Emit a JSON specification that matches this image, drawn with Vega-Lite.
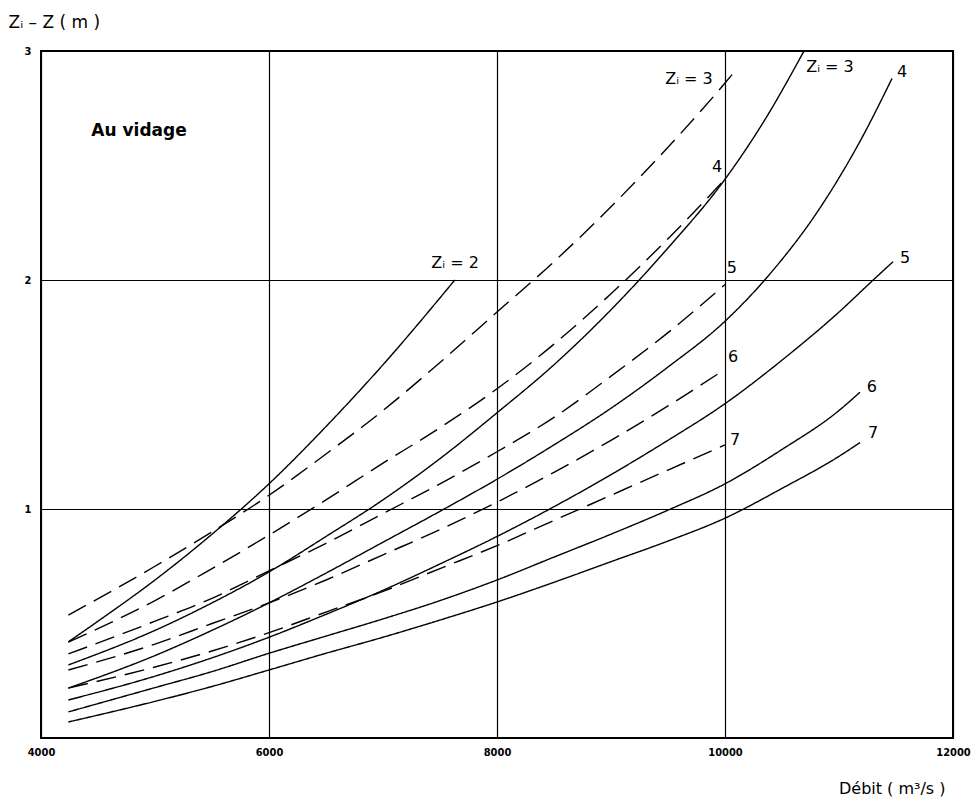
{
  "$schema": "https://vega.github.io/schema/vega-lite/v6.json",
  "width": 912,
  "height": 687,
  "autosize": {"type": "none"},
  "padding": {"left": 41, "top": 51, "right": 25, "bottom": 60},
  "background": "white",
  "config": {"view": {"stroke": "black", "strokeWidth": 2}, "font": "DejaVu Sans"},
  "datasets": {
    "curves": [
      {"curve": "S2", "style": "solid", "q": 4240, "v": 0.42},
      {"curve": "S2", "style": "solid", "q": 4500, "v": 0.51},
      {"curve": "S2", "style": "solid", "q": 5000, "v": 0.69},
      {"curve": "S2", "style": "solid", "q": 5500, "v": 0.89},
      {"curve": "S2", "style": "solid", "q": 6000, "v": 1.11},
      {"curve": "S2", "style": "solid", "q": 6500, "v": 1.36},
      {"curve": "S2", "style": "solid", "q": 7000, "v": 1.63},
      {"curve": "S2", "style": "solid", "q": 7630, "v": 2.0},

      {"curve": "D3", "style": "dashed", "q": 4240, "v": 0.537},
      {"curve": "D3", "style": "dashed", "q": 5000, "v": 0.75},
      {"curve": "D3", "style": "dashed", "q": 5500, "v": 0.9},
      {"curve": "D3", "style": "dashed", "q": 6000, "v": 1.06},
      {"curve": "D3", "style": "dashed", "q": 6500, "v": 1.24},
      {"curve": "D3", "style": "dashed", "q": 7000, "v": 1.43},
      {"curve": "D3", "style": "dashed", "q": 7500, "v": 1.64},
      {"curve": "D3", "style": "dashed", "q": 8000, "v": 1.86},
      {"curve": "D3", "style": "dashed", "q": 8500, "v": 2.08},
      {"curve": "D3", "style": "dashed", "q": 9000, "v": 2.32},
      {"curve": "D3", "style": "dashed", "q": 9500, "v": 2.58},
      {"curve": "D3", "style": "dashed", "q": 10000, "v": 2.86},
      {"curve": "D3", "style": "dashed", "q": 10100, "v": 2.92},

      {"curve": "D4", "style": "dashed", "q": 4240, "v": 0.419},
      {"curve": "D4", "style": "dashed", "q": 5000, "v": 0.6},
      {"curve": "D4", "style": "dashed", "q": 5500, "v": 0.74},
      {"curve": "D4", "style": "dashed", "q": 6000, "v": 0.886},
      {"curve": "D4", "style": "dashed", "q": 6500, "v": 1.04},
      {"curve": "D4", "style": "dashed", "q": 7000, "v": 1.2},
      {"curve": "D4", "style": "dashed", "q": 7500, "v": 1.355},
      {"curve": "D4", "style": "dashed", "q": 8000, "v": 1.525},
      {"curve": "D4", "style": "dashed", "q": 8500, "v": 1.72},
      {"curve": "D4", "style": "dashed", "q": 9000, "v": 1.94},
      {"curve": "D4", "style": "dashed", "q": 9500, "v": 2.18},
      {"curve": "D4", "style": "dashed", "q": 10000, "v": 2.44},

      {"curve": "S3", "style": "solid", "q": 4240, "v": 0.319},
      {"curve": "S3", "style": "solid", "q": 5000, "v": 0.47},
      {"curve": "S3", "style": "solid", "q": 5500, "v": 0.59},
      {"curve": "S3", "style": "solid", "q": 6000, "v": 0.725},
      {"curve": "S3", "style": "solid", "q": 6500, "v": 0.88},
      {"curve": "S3", "style": "solid", "q": 7000, "v": 1.04},
      {"curve": "S3", "style": "solid", "q": 7500, "v": 1.22},
      {"curve": "S3", "style": "solid", "q": 8000, "v": 1.42},
      {"curve": "S3", "style": "solid", "q": 8500, "v": 1.63},
      {"curve": "S3", "style": "solid", "q": 9000, "v": 1.87},
      {"curve": "S3", "style": "solid", "q": 9500, "v": 2.14},
      {"curve": "S3", "style": "solid", "q": 10000, "v": 2.44},
      {"curve": "S3", "style": "solid", "q": 10350, "v": 2.7},
      {"curve": "S3", "style": "solid", "q": 10693, "v": 3.0},

      {"curve": "D5", "style": "dashed", "q": 4240, "v": 0.367},
      {"curve": "D5", "style": "dashed", "q": 5000, "v": 0.51},
      {"curve": "D5", "style": "dashed", "q": 5500, "v": 0.61},
      {"curve": "D5", "style": "dashed", "q": 6000, "v": 0.73},
      {"curve": "D5", "style": "dashed", "q": 6500, "v": 0.85},
      {"curve": "D5", "style": "dashed", "q": 7000, "v": 0.98},
      {"curve": "D5", "style": "dashed", "q": 7500, "v": 1.11},
      {"curve": "D5", "style": "dashed", "q": 8000, "v": 1.25},
      {"curve": "D5", "style": "dashed", "q": 8500, "v": 1.4},
      {"curve": "D5", "style": "dashed", "q": 9000, "v": 1.58},
      {"curve": "D5", "style": "dashed", "q": 9500, "v": 1.77},
      {"curve": "D5", "style": "dashed", "q": 10000, "v": 1.98},

      {"curve": "S4", "style": "solid", "q": 4240, "v": 0.218},
      {"curve": "S4", "style": "solid", "q": 5000, "v": 0.36},
      {"curve": "S4", "style": "solid", "q": 5500, "v": 0.47},
      {"curve": "S4", "style": "solid", "q": 6000, "v": 0.59},
      {"curve": "S4", "style": "solid", "q": 6500, "v": 0.72},
      {"curve": "S4", "style": "solid", "q": 7000, "v": 0.855},
      {"curve": "S4", "style": "solid", "q": 7500, "v": 0.99},
      {"curve": "S4", "style": "solid", "q": 8000, "v": 1.13},
      {"curve": "S4", "style": "solid", "q": 8500, "v": 1.28},
      {"curve": "S4", "style": "solid", "q": 9000, "v": 1.44},
      {"curve": "S4", "style": "solid", "q": 9500, "v": 1.62},
      {"curve": "S4", "style": "solid", "q": 10000, "v": 1.82},
      {"curve": "S4", "style": "solid", "q": 10400, "v": 2.03},
      {"curve": "S4", "style": "solid", "q": 10800, "v": 2.29},
      {"curve": "S4", "style": "solid", "q": 11200, "v": 2.62},
      {"curve": "S4", "style": "solid", "q": 11465, "v": 2.88},

      {"curve": "D6", "style": "dashed", "q": 4240, "v": 0.297},
      {"curve": "D6", "style": "dashed", "q": 5000, "v": 0.41},
      {"curve": "D6", "style": "dashed", "q": 5500, "v": 0.5},
      {"curve": "D6", "style": "dashed", "q": 6000, "v": 0.59},
      {"curve": "D6", "style": "dashed", "q": 6500, "v": 0.69},
      {"curve": "D6", "style": "dashed", "q": 7000, "v": 0.8},
      {"curve": "D6", "style": "dashed", "q": 7500, "v": 0.91},
      {"curve": "D6", "style": "dashed", "q": 8000, "v": 1.03},
      {"curve": "D6", "style": "dashed", "q": 8500, "v": 1.16},
      {"curve": "D6", "style": "dashed", "q": 9000, "v": 1.3},
      {"curve": "D6", "style": "dashed", "q": 9500, "v": 1.45},
      {"curve": "D6", "style": "dashed", "q": 10000, "v": 1.61},

      {"curve": "S5", "style": "solid", "q": 4240, "v": 0.166},
      {"curve": "S5", "style": "solid", "q": 5000, "v": 0.27},
      {"curve": "S5", "style": "solid", "q": 5500, "v": 0.35},
      {"curve": "S5", "style": "solid", "q": 6000, "v": 0.44},
      {"curve": "S5", "style": "solid", "q": 6500, "v": 0.54},
      {"curve": "S5", "style": "solid", "q": 7000, "v": 0.645},
      {"curve": "S5", "style": "solid", "q": 7500, "v": 0.76},
      {"curve": "S5", "style": "solid", "q": 8000, "v": 0.88},
      {"curve": "S5", "style": "solid", "q": 8500, "v": 1.01},
      {"curve": "S5", "style": "solid", "q": 9000, "v": 1.15},
      {"curve": "S5", "style": "solid", "q": 9500, "v": 1.3},
      {"curve": "S5", "style": "solid", "q": 10000, "v": 1.46},
      {"curve": "S5", "style": "solid", "q": 10500, "v": 1.65},
      {"curve": "S5", "style": "solid", "q": 11000, "v": 1.86},
      {"curve": "S5", "style": "solid", "q": 11300, "v": 2.0},
      {"curve": "S5", "style": "solid", "q": 11474, "v": 2.08},

      {"curve": "D7", "style": "dashed", "q": 4240, "v": 0.218},
      {"curve": "D7", "style": "dashed", "q": 5000, "v": 0.31},
      {"curve": "D7", "style": "dashed", "q": 5500, "v": 0.38},
      {"curve": "D7", "style": "dashed", "q": 6000, "v": 0.46},
      {"curve": "D7", "style": "dashed", "q": 6500, "v": 0.55},
      {"curve": "D7", "style": "dashed", "q": 7000, "v": 0.64},
      {"curve": "D7", "style": "dashed", "q": 7500, "v": 0.74},
      {"curve": "D7", "style": "dashed", "q": 8000, "v": 0.84},
      {"curve": "D7", "style": "dashed", "q": 8500, "v": 0.95},
      {"curve": "D7", "style": "dashed", "q": 9000, "v": 1.06},
      {"curve": "D7", "style": "dashed", "q": 9500, "v": 1.17},
      {"curve": "D7", "style": "dashed", "q": 10000, "v": 1.28},

      {"curve": "S6", "style": "solid", "q": 4240, "v": 0.114},
      {"curve": "S6", "style": "solid", "q": 5000, "v": 0.22},
      {"curve": "S6", "style": "solid", "q": 5500, "v": 0.29},
      {"curve": "S6", "style": "solid", "q": 6000, "v": 0.37},
      {"curve": "S6", "style": "solid", "q": 6500, "v": 0.445},
      {"curve": "S6", "style": "solid", "q": 7000, "v": 0.52},
      {"curve": "S6", "style": "solid", "q": 7500, "v": 0.6},
      {"curve": "S6", "style": "solid", "q": 8000, "v": 0.69},
      {"curve": "S6", "style": "solid", "q": 8500, "v": 0.79},
      {"curve": "S6", "style": "solid", "q": 9000, "v": 0.89},
      {"curve": "S6", "style": "solid", "q": 9500, "v": 0.995},
      {"curve": "S6", "style": "solid", "q": 10000, "v": 1.11},
      {"curve": "S6", "style": "solid", "q": 10500, "v": 1.26},
      {"curve": "S6", "style": "solid", "q": 11000, "v": 1.43},
      {"curve": "S6", "style": "solid", "q": 11184, "v": 1.51},

      {"curve": "S7", "style": "solid", "q": 4240, "v": 0.07},
      {"curve": "S7", "style": "solid", "q": 5000, "v": 0.16},
      {"curve": "S7", "style": "solid", "q": 5500, "v": 0.225},
      {"curve": "S7", "style": "solid", "q": 6000, "v": 0.297},
      {"curve": "S7", "style": "solid", "q": 6500, "v": 0.37},
      {"curve": "S7", "style": "solid", "q": 7000, "v": 0.44},
      {"curve": "S7", "style": "solid", "q": 7500, "v": 0.515},
      {"curve": "S7", "style": "solid", "q": 8000, "v": 0.594},
      {"curve": "S7", "style": "solid", "q": 8500, "v": 0.68},
      {"curve": "S7", "style": "solid", "q": 9000, "v": 0.77},
      {"curve": "S7", "style": "solid", "q": 9500, "v": 0.86},
      {"curve": "S7", "style": "solid", "q": 10000, "v": 0.96},
      {"curve": "S7", "style": "solid", "q": 10500, "v": 1.09},
      {"curve": "S7", "style": "solid", "q": 11000, "v": 1.23},
      {"curve": "S7", "style": "solid", "q": 11184, "v": 1.29}
    ],
    "labels": [
      {"kind": "title", "text": "Au vidage", "q": 4860, "v": 2.65},
      {"kind": "curve", "text": "Zᵢ = 2", "q": 7632, "v": 2.074},
      {"kind": "curve", "text": "Zᵢ = 3", "q": 9684, "v": 2.878},
      {"kind": "curve", "text": "Zᵢ = 3", "q": 10921, "v": 2.93},
      {"kind": "curve", "text": "4", "q": 11553, "v": 2.908},
      {"kind": "curve", "text": "4", "q": 9930, "v": 2.493},
      {"kind": "curve", "text": "5", "q": 10061, "v": 2.052},
      {"kind": "curve", "text": "6", "q": 10070, "v": 1.664},
      {"kind": "curve", "text": "7", "q": 10088, "v": 1.301},
      {"kind": "curve", "text": "5", "q": 11579, "v": 2.096},
      {"kind": "curve", "text": "6", "q": 11289, "v": 1.533},
      {"kind": "curve", "text": "7", "q": 11298, "v": 1.332}
    ]
  },
  "layer": [
    {
      "data": {"name": "curves"},
      "mark": {"type": "line", "interpolate": "monotone", "strokeWidth": 1.4, "color": "black"},
      "encoding": {
        "x": {
          "field": "q", "type": "quantitative",
          "scale": {"domain": [4000, 12000], "nice": false, "zero": false},
          "axis": {
            "values": [4000, 6000, 8000, 10000, 12000],
            "format": "d",
            "domain": false, "ticks": false, "tickSize": 0,
            "grid": true, "gridColor": "black", "gridOpacity": 1, "gridWidth": 1.2,
            "labelFont": "DejaVu Sans Condensed, DejaVu Sans", "labelFontWeight": "bold", "labelFontSize": 11,
            "labelColor": "black", "labelPadding": 8, "labelFlush": false,
            "title": "Débit ( m³/s )",
            "titleFont": "DejaVu Sans", "titleFontWeight": "normal", "titleFontSize": 16, "titleColor": "black",
            "titleAnchor": "end", "titleAlign": "right", "titleBaseline": "alphabetic",
            "titleX": 904, "titleY": 55
          }
        },
        "y": {
          "field": "v", "type": "quantitative",
          "scale": {"domain": [0, 3], "nice": false, "zero": true},
          "axis": {
            "values": [1, 2, 3],
            "format": "d",
            "domain": false, "ticks": false, "tickSize": 0,
            "grid": true, "gridColor": "black", "gridOpacity": 1, "gridWidth": 1.2,
            "labelFont": "DejaVu Sans Condensed, DejaVu Sans", "labelFontWeight": "bold", "labelFontSize": 11,
            "labelColor": "black", "labelPadding": 10, "labelFlush": false,
            "title": "Zᵢ – Z ( m )",
            "titleFont": "DejaVu Sans", "titleFontWeight": "normal", "titleFontSize": 17, "titleColor": "black",
            "titleAngle": 0, "titleAlign": "left", "titleBaseline": "alphabetic",
            "titleX": -33, "titleY": -24
          }
        },
        "detail": {"field": "curve", "type": "nominal"},
        "strokeDash": {
          "field": "style", "type": "nominal",
          "scale": {"domain": ["solid", "dashed"], "range": [[1, 0], [20, 9]]},
          "legend": null
        }
      }
    },
    {
      "data": {"name": "labels"},
      "transform": [{"filter": "datum.kind == 'curve'"}],
      "mark": {"type": "text", "fontSize": 16, "align": "center", "baseline": "middle", "color": "black", "font": "DejaVu Sans"},
      "encoding": {
        "x": {"field": "q", "type": "quantitative"},
        "y": {"field": "v", "type": "quantitative"},
        "text": {"field": "text", "type": "nominal"}
      }
    },
    {
      "data": {"name": "labels"},
      "transform": [{"filter": "datum.kind == 'title'"}],
      "mark": {"type": "text", "fontSize": 17, "fontWeight": "bold", "align": "center", "baseline": "middle", "color": "black", "font": "DejaVu Sans"},
      "encoding": {
        "x": {"field": "q", "type": "quantitative"},
        "y": {"field": "v", "type": "quantitative"},
        "text": {"field": "text", "type": "nominal"}
      }
    }
  ]
}
